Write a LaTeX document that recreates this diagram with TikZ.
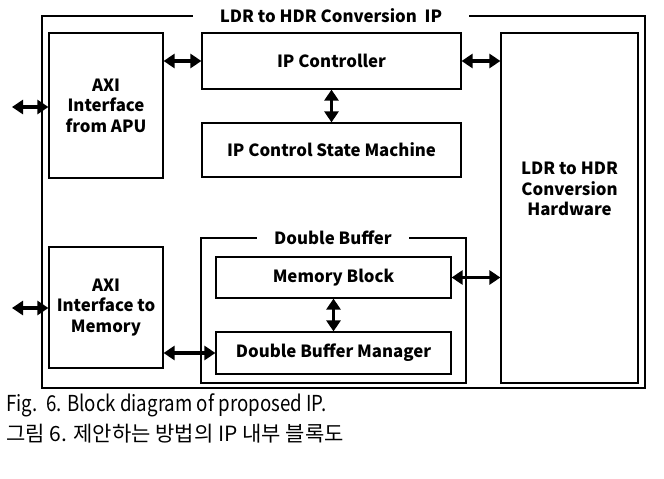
\documentclass[tikz,border=0pt]{standalone}
\usepackage{fontspec}
\setmainfont{Noto Sans CJK KR}
\newfontfamily\capfont[FakeStretch=0.85]{Noto Sans CJK KR}
\usetikzlibrary{arrows.meta}

\begin{document}
\begin{tikzpicture}[x=1pt, y=-1pt,
  every node/.style={font=\bfseries\fontsize{16.8}{20.5}\selectfont, align=center},
  blk/.style={draw, line width=1.2pt, inner sep=0pt},
  ttl/.style={fill=white, inner ysep=2pt},
  io/.style={{Triangle[length=11pt,width=14pt]}-{Triangle[length=11pt,width=14pt]}, line width=3.5pt}]
  \useasboundingbox (0,0) rectangle (664,479);
  % outer frame and buffer group
  \node[blk, minimum width=603pt, minimum height=372pt] (ip) at (343.5,202) {};
  \node[ttl, inner xsep=27pt] (iplbl) at (331,16) {LDR to HDR Conversion\ \ IP};
  \node[blk, minimum width=265pt, minimum height=145pt] (buf) at (333.5,310.5) {};
  \node[ttl, inner xsep=17pt] (buflbl) at (333,238) {Double Buffer};
  % blocks
  \node[blk, minimum width=114pt, minimum height=145pt] (apu) at (106,105.5) {AXI\\ Interface\\ from APU};
  \node[blk, minimum width=259pt, minimum height=56pt] (ipc) at (331.5,61) {IP Controller};
  \node[blk, minimum width=259pt, minimum height=54pt] (fsm) at (331.5,150) {IP Control State Machine};
  \node[blk, minimum width=137pt, minimum height=350pt,
    label={[yshift=19pt, align=center]center:LDR to HDR\\ Conversion\\ Hardware}] (hw) at (569.5,208) {};
  \node[blk, minimum width=114pt, minimum height=121pt] (mem) at (106,307.5) {AXI\\ Interface to\\ Memory};
  \node[blk, minimum width=235pt, minimum height=41pt] (mblk) at (333.5,277.5) {Memory Block};
  \node[blk, minimum width=235pt, minimum height=42pt] (dbm) at (333.5,353) {Double Buffer Manager};
  \coordinate (apuio) at (12,107);
  \coordinate (memio) at (12,308);
  % links
  \draw[io] (apuio) -- (apuio -| apu.west);
  \draw[io] (memio) -- (memio -| mem.west);
  \draw[io] (apu.east |- ipc.west) -- (ipc.west);
  \draw[io] (ipc.east) -- (ipc.east -| hw.west);
  \draw[io] (ipc) -- (fsm);
  \draw[io] (mblk) -- (dbm);
  \draw[io] (mblk.east) -- (mblk.east -| hw.west);
  \draw[io] (mem.east |- dbm.west) -- (dbm.west);
  % caption
  \node[anchor=west, font=\capfont\fontsize{22}{24}\selectfont] (cap) at (3,405) {Fig.\ \ 6. Block diagram of proposed IP.};
  \node[anchor=west, font=\fontsize{21}{24}\mdseries\selectfont] (capkr) at (3,434) {그림 6. 제안하는 방법의 IP 내부 블록도};
\end{tikzpicture}
\end{document}
